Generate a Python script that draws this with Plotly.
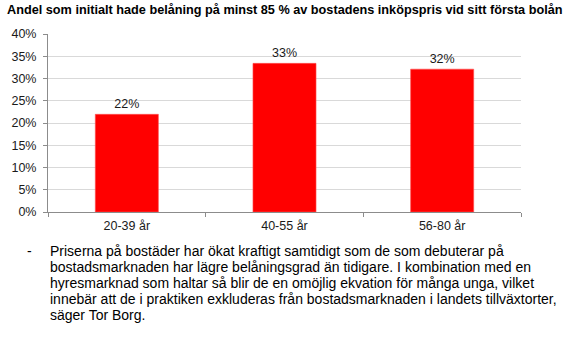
import plotly.graph_objects as go

# Data
age_groups = ["20-39 år", "40-55 år", "56-80 år"]
share_high_ltv = [0.2195, 0.334, 0.321]
y_ticks = [0, 0.05, 0.10, 0.15, 0.20, 0.25, 0.30, 0.35, 0.40]

title_text = "Andel som initialt hade belåning på minst 85 % av bostadens inköpspris vid sitt första bolån"
quote_lines = [
    "Priserna på bostäder har ökat kraftigt samtidigt som de som debuterar på",
    "bostadsmarknaden har lägre belåningsgrad än tidigare. I kombination med en",
    "hyresmarknad som haltar så blir de en omöjlig ekvation för många unga, vilket",
    "innebär att de i praktiken exkluderas från bostadsmarknaden i landets tillväxtorter,",
    "säger Tor Borg.",
]

FONT = "Liberation Sans, Arial, sans-serif"
W, H = 580, 338
L, R, T, B = 48, 59, 34, 126
TICK_SIZE = 12.5
TEXT_SIZE = 14
LINE_STEP = 16
FIRST_LINE = 250.5  # centre of the first quote line, px from top

fig = go.Figure(
    go.Bar(
        x=age_groups,
        y=share_high_ltv,
        width=0.4,
        marker=dict(color="#ff0000", line=dict(color="#ff5050", width=0.6)),
        texttemplate="%{y:.0%}",
        textposition="outside",
        textfont=dict(family=FONT, size=TICK_SIZE, color="#1a1a1a"),
        cliponaxis=False,
    )
)

fig.update_layout(
    width=W,
    height=H,
    margin=dict(l=L, r=R, t=T, b=B, pad=0),
    paper_bgcolor="white",
    plot_bgcolor="white",
    showlegend=False,
    font=dict(family=FONT, size=TICK_SIZE, color="#1a1a1a"),
)

fig.update_yaxes(
    range=[0, 0.40],
    tickvals=y_ticks,
    tickformat=".0%",
    showgrid=True,
    gridcolor="#d9d9d9",
    gridwidth=1,
    showline=True,
    linecolor="#8c8c8c",
    linewidth=1,
    ticks="outside",
    ticklen=4,
    tickcolor="#8c8c8c",
    zeroline=False,
    tickfont=dict(family=FONT, size=TICK_SIZE, color="#1a1a1a"),
    ticklabelstandoff=4,
)

fig.update_xaxes(
    showline=True,
    linecolor="#8c8c8c",
    linewidth=1,
    ticks="outside",
    tickson="boundaries",
    ticklen=4,
    tickcolor="#8c8c8c",
    showgrid=False,
    tickfont=dict(family=FONT, size=TICK_SIZE, color="#1a1a1a"),
    ticklabelstandoff=2,
)

annotations = [
    dict(
        text="<b>" + title_text + "</b>",
        xref="paper", yref="paper",
        x=0, y=1,
        xanchor="left", yanchor="middle",
        xshift=5 - L, yshift=(T - 10),
        showarrow=False,
        font=dict(family=FONT, size=12.7, color="#000000"),
    ),
    dict(
        text="-",
        xref="paper", yref="paper",
        x=0, y=0,
        xanchor="left", yanchor="middle",
        xshift=25 - L, yshift=-(FIRST_LINE - (H - B)),
        showarrow=False,
        font=dict(family=FONT, size=TEXT_SIZE, color="#000000"),
    ),
]
for i, line in enumerate(quote_lines):
    annotations.append(
        dict(
            text=line,
            xref="paper", yref="paper",
            x=0, y=0,
            xanchor="left", yanchor="middle",
            xshift=48 - L, yshift=-(FIRST_LINE - (H - B) + LINE_STEP * i),
            showarrow=False,
            font=dict(family=FONT, size=TEXT_SIZE, color="#000000"),
        )
    )
fig.update_layout(annotations=annotations)

fig.write_html("out.html")
